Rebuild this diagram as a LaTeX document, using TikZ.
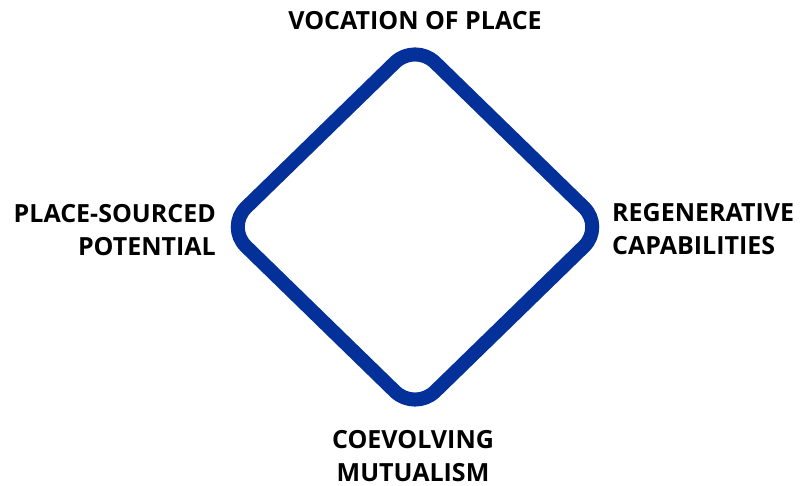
\documentclass[tikz,border=0pt]{standalone}
\usepackage{fontspec}
\setmainfont{Open Sans}[BoldFont={* Bold}]
\usepackage{xcolor}
\usetikzlibrary{positioning}
\definecolor{diamondblue}{RGB}{3,48,153}

\begin{document}
\begin{tikzpicture}[x=1pt,y=1pt,
    caption/.style={inner sep=0pt, font=\fontsize{25}{33.5}\selectfont\bfseries}]
    \useasboundingbox (0,0) rectangle (800,486);
    % Corners of the diamond
    \coordinate (centre) at (415,259);
    \coordinate (top) at (415,443);
    \coordinate (right) at (604,259);
    \coordinate (bottom) at (415,75);
    \coordinate (left) at (226,259);

    % Diamond
    \draw[diamondblue, line width=14pt, rounded corners=28pt]
        (top) -- (right) -- (bottom) -- (left) -- cycle;

    % Labels
    \node[caption, anchor=base] (vocation) at (415,456) {VOCATION OF PLACE};
    \node[caption, anchor=north east, align=right] (potential) at (216,282) {PLACE-SOURCED\\POTENTIAL};
    \node[caption, anchor=north west, align=left] (regen) at (612,283) {REGENERATIVE\\CAPABILITIES};
    \node[caption, anchor=north, align=center] (mutualism) at (413,56) {COEVOLVING\\MUTUALISM};
\end{tikzpicture}
\end{document}
